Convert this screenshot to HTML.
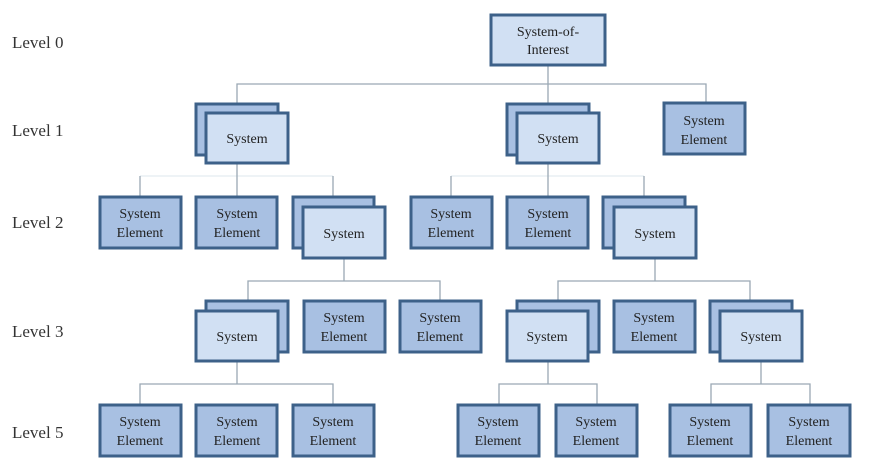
<!DOCTYPE html>
<html><head><meta charset="utf-8"><style>
html,body{margin:0;padding:0;background:#fff;width:871px;height:466px;overflow:hidden}
text{font-family:"Liberation Serif",serif;font-size:14px;fill:#222;text-anchor:middle}
.lv{font-size:17px;text-anchor:start;fill:#333}
.e{fill:#a8c0e2;stroke:#3d6189;stroke-width:3}
.s{fill:#d1e0f3;stroke:#3d6189;stroke-width:3}
.l{stroke:#9aa8b4;stroke-width:1.3;fill:none}
.f{stroke:#e4ecf0;stroke-width:1.3;fill:none}
</style></head><body>
<svg width="871" height="466" xmlns="http://www.w3.org/2000/svg">
<text class="lv" x="12" y="48">Level 0</text>
<text class="lv" x="12" y="136">Level 1</text>
<text class="lv" x="12" y="228">Level 2</text>
<text class="lv" x="12" y="337">Level 3</text>
<text class="lv" x="12" y="438">Level 5</text>

<!-- lines -->
<path class="l" d="M548 65V84M237 104V84H706V103M548 84V104"/>
<path class="f" d="M140 176H333M451 176H644"/>
<path class="l" d="M140 176V197M237 163V197M333 176V197M451 176V197M548 163V197M644 176V197"/>
<path class="l" d="M344 258V281M248 301V281H440V301M655 258V281M558 301V281H750V301"/>
<path class="l" d="M237 361V384M140 405V384H333V405M548 361V384M499 405V384H597V405M761 361V384M711 405V384H810V405"/>

<!-- level0 -->
<rect class="s" x="491" y="15" width="114" height="50"/>
<text x="548" y="36">System-of-</text><text x="548" y="54">Interest</text>

<!-- level1 -->
<rect class="e" x="196" y="104" width="82" height="51"/>
<rect class="s" x="206" y="113" width="82" height="50"/><text x="247" y="143">System</text>
<rect class="e" x="507" y="104" width="82" height="51"/>
<rect class="s" x="517" y="113" width="82" height="50"/><text x="558" y="143">System</text>
<rect class="e" x="664" y="103" width="81" height="51"/>
<text x="704" y="125">System</text><text x="704" y="144">Element</text>

<!-- level2 -->
<rect class="e" x="100" y="197" width="81" height="51"/><text x="140" y="218">System</text><text x="140" y="237">Element</text>
<rect class="e" x="196" y="197" width="81" height="51"/><text x="237" y="218">System</text><text x="237" y="237">Element</text>
<rect class="e" x="293" y="197" width="81" height="51"/>
<rect class="s" x="303" y="207" width="82" height="51"/><text x="344" y="238">System</text>
<rect class="e" x="411" y="197" width="81" height="51"/><text x="451" y="218">System</text><text x="451" y="237">Element</text>
<rect class="e" x="507" y="197" width="81" height="51"/><text x="548" y="218">System</text><text x="548" y="237">Element</text>
<rect class="e" x="603" y="197" width="82" height="51"/>
<rect class="s" x="614" y="207" width="82" height="51"/><text x="655" y="238">System</text>

<!-- level3 -->
<rect class="e" x="206" y="301" width="82" height="51"/>
<rect class="s" x="196" y="311" width="82" height="50"/><text x="237" y="341">System</text>
<rect class="e" x="304" y="301" width="81" height="51"/><text x="344" y="322">System</text><text x="344" y="341">Element</text>
<rect class="e" x="400" y="301" width="81" height="51"/><text x="440" y="322">System</text><text x="440" y="341">Element</text>
<rect class="e" x="517" y="301" width="82" height="51"/>
<rect class="s" x="507" y="311" width="81" height="50"/><text x="547" y="341">System</text>
<rect class="e" x="614" y="301" width="81" height="51"/><text x="654" y="322">System</text><text x="654" y="341">Element</text>
<rect class="e" x="710" y="301" width="82" height="51"/>
<rect class="s" x="720" y="311" width="82" height="50"/><text x="761" y="341">System</text>

<!-- level5 -->
<rect class="e" x="100" y="405" width="81" height="51"/><text x="140" y="426">System</text><text x="140" y="445">Element</text>
<rect class="e" x="196" y="405" width="81" height="51"/><text x="237" y="426">System</text><text x="237" y="445">Element</text>
<rect class="e" x="293" y="405" width="81" height="51"/><text x="333" y="426">System</text><text x="333" y="445">Element</text>
<rect class="e" x="458" y="405" width="81" height="51"/><text x="498" y="426">System</text><text x="498" y="445">Element</text>
<rect class="e" x="556" y="405" width="81" height="51"/><text x="596" y="426">System</text><text x="596" y="445">Element</text>
<rect class="e" x="670" y="405" width="81" height="51"/><text x="710" y="426">System</text><text x="710" y="445">Element</text>
<rect class="e" x="768" y="405" width="82" height="51"/><text x="809" y="426">System</text><text x="809" y="445">Element</text>
</svg>
</body></html>
